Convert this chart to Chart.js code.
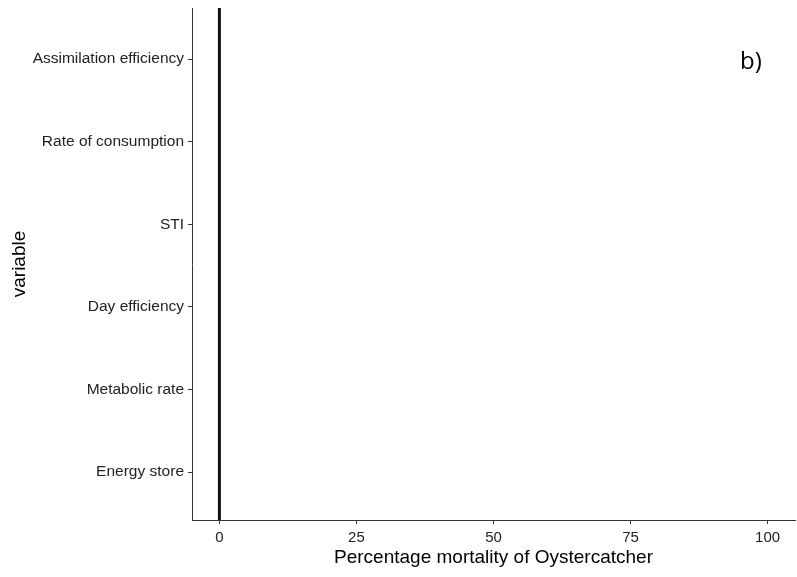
<!DOCTYPE html>
<html>
<head>
<meta charset="utf-8">
<script src="https://cdn.jsdelivr.net/npm/chart.js@4"></script>
<style>
  html, body { margin: 0; padding: 0; background: #fff; }
  #wrap { width: 797px; height: 577px; }
</style>
</head>
<body>
<div id="wrap"><canvas id="chart" width="797" height="577"></canvas></div>
<script>
const variables = ["Assimilation efficiency", "Rate of consumption", "STI", "Day efficiency", "Metabolic rate", "Energy store"];
const mortality = [0, 0, 0, 0, 0, 0];
const xTicks = [0, 25, 50, 75, 100];
const refLine = 0;
const panelLabel = "b)";

const axisCol = "#333";
const tickTextCol = "#222";

// vertical reference line at zero + panel letter
const extras = {
  id: "extras",
  afterDatasetsDraw(c) {
    const { ctx, chartArea, scales } = c;
    const x = scales.x.getPixelForValue(refLine);
    ctx.save();
    ctx.strokeStyle = "#111";
    ctx.lineWidth = 3;
    ctx.beginPath();
    ctx.moveTo(x, chartArea.top);
    ctx.lineTo(x, chartArea.bottom);
    ctx.stroke();
    ctx.fillStyle = "#000";
    ctx.font = "24px 'Open Sans', sans-serif";
    ctx.textAlign = "left";
    ctx.textBaseline = "middle";
    ctx.fillText(panelLabel, 740, 62);
    ctx.restore();
  }
};

new Chart(document.getElementById("chart"), {
  type: "bar",
  data: {
    datasets: [{
      label: "mortality",
      data: mortality.map((v, i) => ({ x: v, y: i })),
      backgroundColor: "#111",
      borderColor: "#111",
      borderWidth: 0
    }]
  },
  options: {
    indexAxis: "y",
    responsive: false,
    animation: false,
    layout: { padding: { top: 8, right: 2, left: 0, bottom: 0 } },
    plugins: { legend: { display: false }, tooltip: { enabled: false } },
    scales: {
      x: {
        type: "linear",
        min: -5,
        max: 105,
        afterBuildTicks: s => { s.ticks = xTicks.map(v => ({ value: v })); },
        afterFit: s => { s.height = 57; s.paddingLeft = 0; s.paddingRight = 0; },
        grid: { display: true, drawOnChartArea: false, drawTicks: true, tickLength: 4, color: axisCol },
        border: { display: true, color: axisCol, width: 1 },
        ticks: { color: tickTextCol, font: { family: "'Liberation Sans', Arial", size: 15 }, padding: 5 },
        title: { display: true, text: "Percentage mortality of Oystercatcher", color: "#000",
                 font: { family: "'Liberation Sans', Arial", size: 19 }, padding: { top: 0, bottom: 8 } }
      },
      y: {
        type: "linear",
        min: -0.62,
        max: 5.58,
        reverse: true,
        offset: false,
        afterBuildTicks: s => { s.ticks = variables.map((v, i) => ({ value: i })); },
        afterFit: s => { s.width = 192; s.paddingTop = 0; s.paddingBottom = 0; },
        grid: { display: true, offset: false, drawOnChartArea: false, drawTicks: true, tickLength: 4, color: axisCol },
        border: { display: true, color: axisCol, width: 1 },
        ticks: { color: tickTextCol, font: { family: "'Liberation Sans', Arial", size: 15.5 }, padding: 4,
                 callback: v => variables[v] },
        title: { display: true, text: "variable", color: "#000",
                 font: { family: "'Liberation Sans', Arial", size: 19 }, padding: { top: 8, bottom: 0 } }
      }
    }
  },
  plugins: [extras]
});
</script>
</body>
</html>
